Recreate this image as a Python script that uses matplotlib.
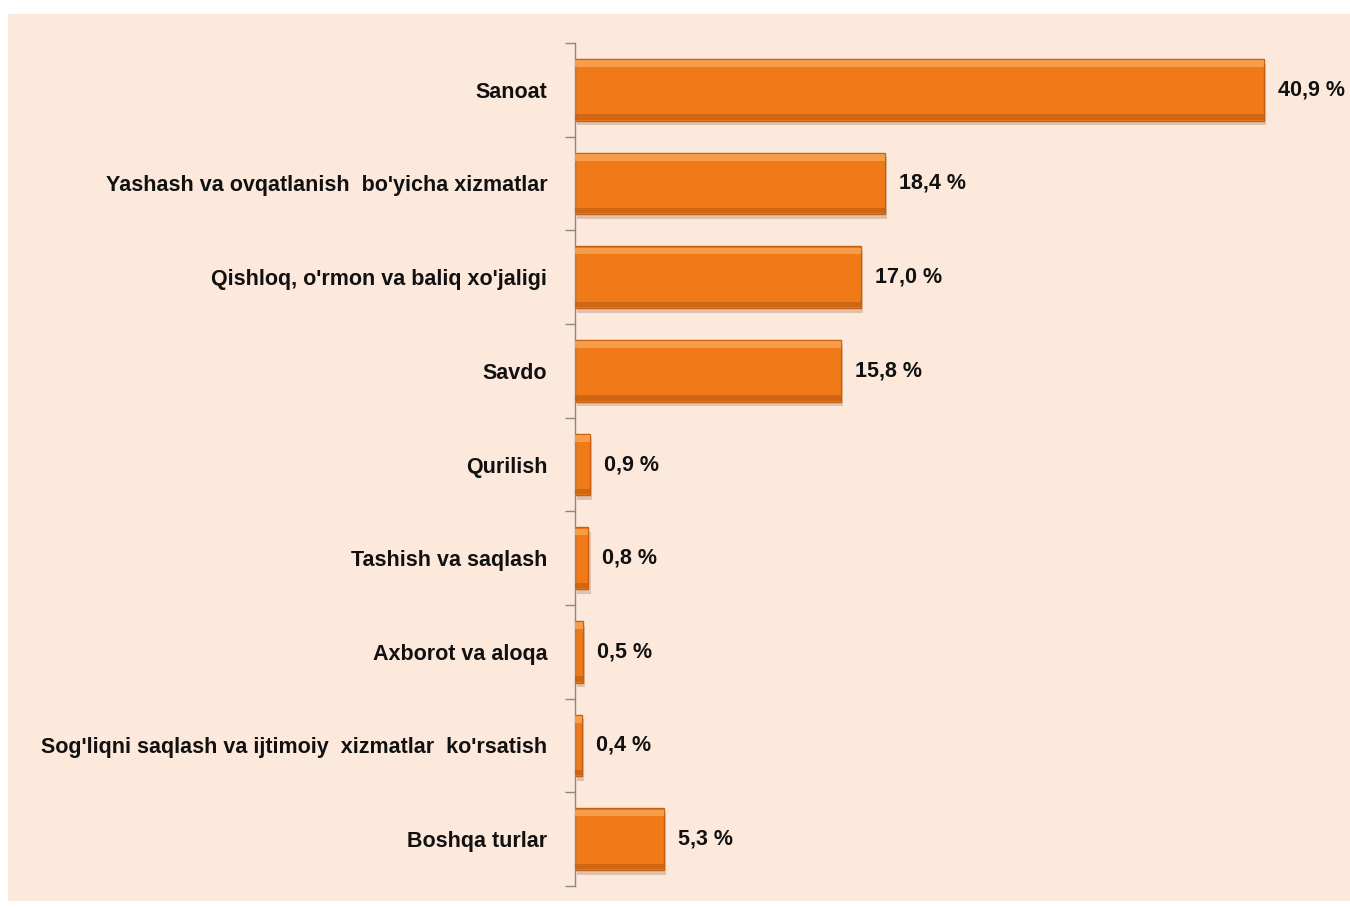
import matplotlib
matplotlib.use('Agg')
from matplotlib import pyplot as plt
from matplotlib.patches import Rectangle

# Данные диаграммы
categories = [
    'Sanoat',
    "Yashash va ovqatlanish  bo'yicha xizmatlar",
    "Qishloq, o'rmon va baliq xo'jaligi",
    'Savdo',
    'Qurilish',
    'Tashish va saqlash',
    'Axborot va aloqa',
    "Sog'liqni saqlash va ijtimoiy  xizmatlar  ko'rsatish",
    'Boshqa turlar',
]
shares = [40.9, 18.4, 17.0, 15.8, 0.9, 0.8, 0.5, 0.4, 5.3]
value_labels = ['40,9 %', '18,4 %', '17,0 %', '15,8 %', '0,9 %', '0,8 %', '0,5 %', '0,4 %', '5,3 %']

plt.rcParams['font.family'] = ['Liberation Sans', 'DejaVu Sans']

bg = '#FCE9DC'
orange = '#F07A18'

fig = plt.figure(figsize=(13.5, 9.07), dpi=100, facecolor='white')
# персиковый фон
fig.patches.append(Rectangle((8 / 1350, 6 / 907), 1 - 8 / 1350, (901 - 14) / 907,
                             transform=fig.transFigure, facecolor=bg, edgecolor='none', zorder=-5))

ax = fig.add_axes([575 / 1350, 21 / 907, 775 / 1350, 843 / 907])
ax.set_facecolor('none')

y = list(range(len(categories)))
h = 0.66
# тень
ax.barh([v + 0.05 for v in y], shares, height=h, left=0.12, color='#9a6a4a', alpha=0.3, zorder=1)
# основные столбцы
ax.barh(y, shares, height=h, color=orange, edgecolor='#C9600F', linewidth=1.0, zorder=2)
# блик сверху и тёмная грань снизу
ax.barh([v - h / 2 + 0.05 for v in y], shares, height=0.07, color='#F8A75A', alpha=0.8, zorder=3)
ax.barh([v + h / 2 - 0.04 for v in y], shares, height=0.06, color='#B85A12', alpha=0.6, zorder=3)

for v, s, lab in zip(y, shares, value_labels):
    ax.annotate(lab, (s, v), xytext=(10, 0), textcoords='offset points',
                va='center', ha='left', fontsize=15.5, fontweight='bold', color='#111111')

ax.set_ylim(len(categories) - 0.5, -0.5)
ax.set_xlim(0, 46)
ax.set_yticks(y)
ax.set_yticklabels(categories, fontsize=15.5, fontweight='bold', color='#111111')
ax.set_yticks([v - 0.5 for v in range(len(categories) + 1)], minor=True)
ax.tick_params(axis='y', which='major', length=0, pad=20)
ax.tick_params(axis='y', which='minor', length=7, color='#888888', width=1)
ax.set_xticks([])
for side in ['top', 'right', 'bottom']:
    ax.spines[side].set_visible(False)
ax.spines['left'].set_color('#888888')
ax.spines['left'].set_linewidth(1)

plt.savefig('out.png', dpi=100, facecolor='white')
